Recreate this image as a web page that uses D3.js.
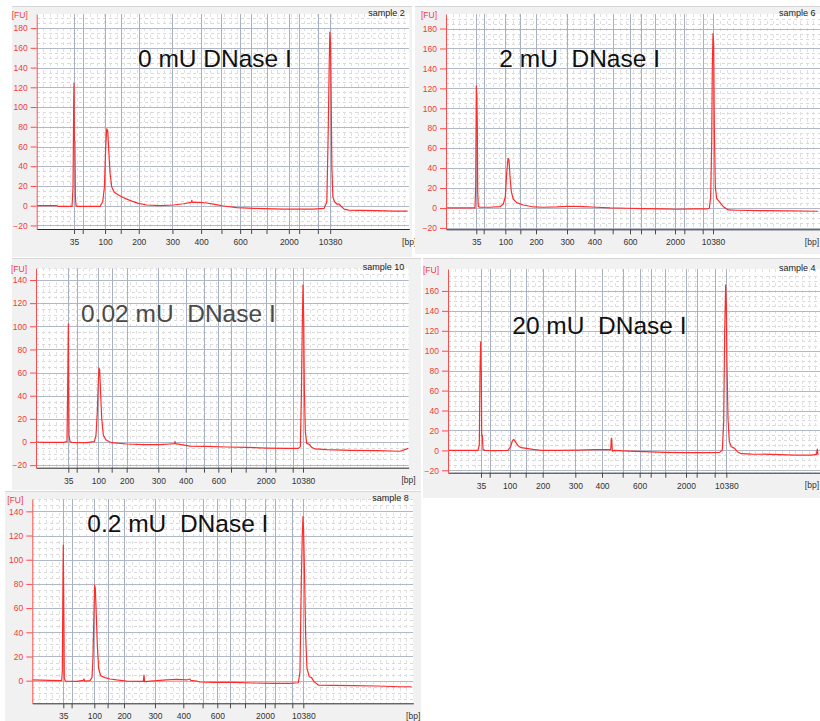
<!DOCTYPE html>
<html>
<head>
<meta charset="utf-8">
<script src="https://cdn.jsdelivr.net/npm/d3@7"></script>
<style>
  html, body { margin: 0; padding: 0; background: #ffffff; }
  svg { display: block; font-family: "Liberation Sans", Arial, Helvetica, sans-serif; }
</style>
</head>
<body>
<svg id="chart" width="820" height="721"></svg>
<script>
// ---- Ladder (High Sensitivity DNA) ----
const ladderBp = [35, 50, 100, 150, 200, 300, 400, 500, 600, 700, 1000, 2000, 3000, 7000, 10380];
const labeledBp = [35, 100, 200, 300, 400, 600, 2000, 10380];

// ---- Panel labels ----
const sampleNames = ["sample 2", "sample 6", "sample 10", "sample 4", "sample 8"];
const doseLabels = ["0 mU DNase I", "2 mU  DNase I", "0.02 mU  DNase I", "20 mU  DNase I", "0.2 mU  DNase I"];

// ---- Migration time of each ladder fragment per run [s] ----
const ladderTimeS2  = [39.33, 41.5, 47.08, 51.0, 55.5, 63.92, 71.08, 76.17, 80.83, 83.58, 87.42, 93.0, 95.58, 100.25, 103.33];
const ladderTimeS6  = [37.58, 39.42, 44.83, 48.58, 52.5, 60.25, 67.08, 71.67, 76.0, 78.75, 82.25, 87.25, 89.58, 94.17, 96.75];
const ladderTimeS10 = [38.08, 40.17, 45.58, 48.92, 52.67, 60.58, 67.42, 72.0, 75.58, 78.75, 82.42, 87.42, 89.83, 94.17, 96.75];
const ladderTimeS4  = [38.25, 40.42, 45.42, 49.42, 53.67, 61.83, 68.5, 73.67, 77.92, 80.67, 84.33, 89.5, 92.17, 96.67, 99.58];
const ladderTimeS8  = [37.75, 39.83, 45.5, 48.83, 52.92, 60.67, 67.75, 72.58, 76.25, 79.42, 83.17, 88.17, 90.58, 95.0, 97.75];

// ---- Visible time windows [s] ----
const timeRangeS2  = [30, 123.1];
const timeRangeS6  = [30, 123.5];
const timeRangeS10 = [30, 123.17];
const timeRangeS4  = [30, 123.0];
const timeRangeS8  = [30, 125.25];

// ---- Fluorescence windows [FU] and ticks ----
const fuRangeS2  = [-23.6, 194.3];
const fuRangeS6  = [-21.4, 194.6];
const fuRangeS10 = [-22.2, 150.1];
const fuRangeS4  = [-22.4, 182];
const fuRangeS8  = [-18.7, 150.2];
const fuTicksS2  = [-20, 0, 20, 40, 60, 80, 100, 120, 140, 160, 180];
const fuTicksS6  = [-20, 0, 20, 40, 60, 80, 100, 120, 140, 160, 180];
const fuTicksS10 = [-20, 0, 20, 40, 60, 80, 100, 120, 140];
const fuTicksS4  = [-20, 0, 20, 40, 60, 80, 100, 120, 140, 160];
const fuTicksS8  = [0, 20, 40, 60, 80, 100, 120, 140];

// ---- Electropherogram traces: [time s, FU] ----
const traceS2 = [[30.0,0],[35.0,0],[35.42,-0.7],[38.83,-0.7],[39.08,19.3],[39.25,107],[39.33,124],[39.42,66.6],[39.54,65],[39.67,9],[39.83,0],[40.17,-0.7],[45.83,-0.7],[46.5,4],[46.92,19],[47.25,60],[47.5,78],[47.75,76],[48.0,56],[48.33,33],[48.75,19],[49.33,14],[50.42,10.8],[52.08,7.4],[53.75,4.7],[55.42,2.4],[57.5,0.7],[60.83,0],[64.17,0.7],[66.67,2],[68.6,3.3],[68.75,5.5],[68.9,3.3],[70.0,3.4],[72.08,3],[74.17,1.7],[76.67,-0.3],[80.0,-2],[84.17,-2.7],[91.67,-3.4],[99.17,-3.4],[101.83,-2.7],[102.5,4],[102.83,73],[103.08,141],[103.25,176],[103.42,165],[103.58,107],[103.75,39.5],[104.0,9],[104.42,4],[105.0,1.7],[105.5,1.7],[106.0,-0.3],[106.83,-3.4],[107.92,-4.4],[110.83,-4.7],[115.0,-5],[119.17,-5.4],[122.67,-5.4]];
const traceS6 = [[30.0,0],[37.25,0],[37.42,21],[37.58,122.4],[37.71,111.7],[37.83,81.6],[37.92,16.4],[38.08,1.3],[38.5,0.7],[41.0,0.7],[43.5,1.3],[44.33,4],[44.83,11.4],[45.17,34.8],[45.5,49.8],[45.75,48],[46.0,31.4],[46.33,16.4],[46.83,8.7],[47.67,5.4],[49.33,3],[51.83,1],[54.33,0.7],[57.67,1],[61.0,1.7],[64.33,1.3],[67.67,0.7],[71.0,0],[75.17,-0.3],[79.33,-0.7],[84.33,-1],[87.67,-1.3],[91.83,-1],[95.17,-1],[95.83,-0.3],[96.17,11.4],[96.42,65],[96.58,142],[96.75,175],[96.92,165],[97.08,81.6],[97.33,21.4],[97.67,9.4],[98.33,6.4],[99.33,1.3],[100.58,-2],[102.67,-2.3],[108.5,-2.7],[115.17,-3],[123.08,-3.3]];
const traceS10 = [[30.0,0],[31.83,-0.3],[36.83,-0.3],[37.75,0.3],[37.96,60],[38.08,102],[38.17,42],[38.25,6],[38.5,0.3],[38.92,-0.3],[42.67,-0.6],[44.58,0.3],[45.0,6],[45.33,26],[45.58,52],[45.75,64],[45.92,62],[46.17,40.6],[46.42,20.5],[46.83,6],[47.5,1.7],[48.92,-0.6],[52.67,-1.7],[56.83,-2.3],[61.0,-2.3],[63.5,-1.7],[64.67,-1.4],[64.75,0.5],[64.83,-1.4],[66.0,-2],[68.5,-3.5],[72.67,-3.7],[77.67,-4.3],[82.67,-4.6],[87.67,-5.2],[92.67,-5.5],[95.58,-5.5],[96.08,-4],[96.33,37.7],[96.58,104],[96.75,135.7],[96.92,106.9],[97.08,46.4],[97.33,9],[97.67,-1.2],[98.33,-2],[98.92,-4.6],[99.75,-6],[102.67,-6.6],[108.5,-7.2],[115.17,-7.5],[121.0,-8],[123.08,-5.5]];
const traceS4 = [[30.0,0],[37.5,0],[37.83,5.4],[38.0,79],[38.17,109],[38.25,82.3],[38.33,80.6],[38.42,15.4],[38.58,15.4],[38.75,1],[39.17,0],[41.67,-0.3],[45.0,0],[45.67,3.7],[46.08,9.4],[46.42,11],[46.83,8.7],[47.5,4.7],[48.33,2.7],[49.58,2],[51.25,1],[53.33,0],[57.5,0],[62.5,0.3],[66.67,0.7],[70.67,0.7],[70.83,12],[70.92,12],[71.08,-0.7],[71.67,0],[75.0,-0.7],[79.17,-1.3],[84.17,-2],[89.17,-2.3],[94.17,-2.3],[97.92,-2],[98.58,0.3],[98.92,28.8],[99.17,119],[99.42,166],[99.58,146],[99.75,85.6],[100.0,32],[100.33,8.7],[100.83,3.7],[101.67,2],[102.33,-1.3],[103.33,-3.3],[105.83,-3.7],[110.83,-4],[116.67,-4.7],[120.83,-4.7],[122.08,-4],[122.33,1.3],[122.5,-4.7]];
const traceS8 = [[30.0,0.6],[34.42,0.3],[37.33,0],[37.5,7.4],[37.67,87],[37.75,112],[37.83,79],[37.92,40.5],[38.0,2],[38.25,-0.3],[41.08,-0.6],[42.75,0.3],[42.92,1.4],[43.08,-0.3],[44.42,0],[44.92,2.5],[45.17,18.5],[45.42,57],[45.58,79],[45.75,76.3],[46.0,54.3],[46.25,29.5],[46.58,10.2],[47.08,4.1],[48.17,2.5],[49.42,1.4],[51.08,0.6],[53.58,-0.3],[56.92,-0.6],[57.75,-0.6],[57.92,4.7],[58.08,-0.8],[61.08,0],[63.58,0.6],[66.08,1.1],[68.58,0.6],[69.42,1.4],[69.58,0.3],[71.08,-0.3],[71.92,-1.1],[75.25,-1.4],[80.25,-1.4],[85.25,-1.9],[90.25,-2.2],[94.42,-2.2],[96.5,-1.7],[96.92,7.4],[97.25,81.8],[97.5,120.4],[97.67,135.6],[97.83,123.2],[98.08,84.6],[98.33,37.8],[98.67,10.2],[99.25,3.3],[99.83,2.5],[100.42,-0.8],[101.5,-3.6],[105.25,-3.9],[110.25,-4.1],[116.08,-4.4],[121.92,-5],[124.83,-5]];

// ---- Panel table ----
const panels = [
  { name: sampleNames[0], dose: doseLabels[0], ladderTime: ladderTimeS2,  time: timeRangeS2,  fu: fuRangeS2,  fuTicks: fuTicksS2,  trace: traceS2 },
  { name: sampleNames[1], dose: doseLabels[1], ladderTime: ladderTimeS6,  time: timeRangeS6,  fu: fuRangeS6,  fuTicks: fuTicksS6,  trace: traceS6 },
  { name: sampleNames[2], dose: doseLabels[2], ladderTime: ladderTimeS10, time: timeRangeS10, fu: fuRangeS10, fuTicks: fuTicksS10, trace: traceS10 },
  { name: sampleNames[3], dose: doseLabels[3], ladderTime: ladderTimeS4,  time: timeRangeS4,  fu: fuRangeS4,  fuTicks: fuTicksS4,  trace: traceS4 },
  { name: sampleNames[4], dose: doseLabels[4], ladderTime: ladderTimeS8,  time: timeRangeS8,  fu: fuRangeS8,  fuTicks: fuTicksS8,  trace: traceS8 }
];

// ---- Page layout of the five frames ----
const frames = [
  { bg: [12, 6, 400, 251],   plot: { left: 36.7, right: 409.3, top: 14,    bottom: 229 },   title: [138, 66.7],   titleColor: "#111111" },
  { bg: [415, 6, 405, 248],  plot: { left: 446,  right: 820,   top: 14,    bottom: 229.3 }, title: [499.3, 66.7], titleColor: "#111111" },
  { bg: [12, 258, 409, 232], plot: { left: 36,   right: 408.7, top: 268.3, bottom: 467.7 }, title: [81, 321.7],   titleColor: "#4a4a4a" },
  { bg: [423, 258, 397, 240],plot: { left: 448,  right: 820,   top: 269,   bottom: 472.7 }, title: [512.3, 334],  titleColor: "#111111" },
  { bg: [5, 491, 416, 230],  plot: { left: 32.3, right: 413.3, top: 499,   bottom: 703.3 }, title: [87.3, 531.7], titleColor: "#111111" }
];

const svg = d3.select("#chart");
const defs = svg.append("defs");
const RED = "#ff2b2b";
const PAGE_W = 820;

panels.forEach((p, i) => {
  const f = frames[i];
  const b = f.plot;
  const g = svg.append("g");

  // frame background
  g.append("rect")
    .attr("x", f.bg[0]).attr("y", f.bg[1]).attr("width", f.bg[2]).attr("height", f.bg[3])
    .attr("fill", "#f1f1f1");
  g.append("line")
    .attr("x1", f.bg[0]).attr("x2", f.bg[0] + f.bg[2]).attr("y1", f.bg[1] + 0.5).attr("y2", f.bg[1] + 0.5)
    .attr("stroke", "#d6d6d6");

  const x = d3.scaleLinear().domain(p.time).range([b.left, b.right]);
  const y = d3.scaleLinear().domain(p.fu).range([b.bottom, b.top]);

  const clipId = "clip" + i;
  defs.append("clipPath").attr("id", clipId)
    .append("rect").attr("x", b.left).attr("y", b.top).attr("width", b.right - b.left).attr("height", b.bottom - b.top);

  // plot area
  g.append("rect")
    .attr("x", b.left).attr("y", b.top).attr("width", b.right - b.left).attr("height", b.bottom - b.top)
    .attr("fill", "#ffffff");

  const grid = g.append("g").attr("clip-path", `url(#${clipId})`).attr("shape-rendering", "crispEdges");

  // minor dashed grid
  const minorFu = d3.range(Math.ceil(p.fu[0] / 5) * 5, p.fu[1], 5).filter(v => v % 20 !== 0);
  grid.selectAll(".minor-h").data(minorFu).join("line")
    .attr("x1", b.left).attr("x2", b.right)
    .attr("y1", d => Math.round(y(d)) + 0.5).attr("y2", d => Math.round(y(d)) + 0.5)
    .attr("stroke", "#dadada").attr("stroke-dasharray", "3,3");
  const minorT = d3.range(p.time[0] + 1.67, p.time[1], 1.67);
  grid.selectAll(".minor-v").data(minorT).join("line")
    .attr("x1", d => Math.round(x(d)) + 0.5).attr("x2", d => Math.round(x(d)) + 0.5)
    .attr("y1", b.top).attr("y2", b.bottom)
    .attr("stroke", "#e0e0e0").attr("stroke-dasharray", "3,4");

  // major grid
  grid.selectAll(".major-h").data(p.fuTicks).join("line")
    .attr("x1", b.left).attr("x2", b.right)
    .attr("y1", d => Math.round(y(d)) + 0.5).attr("y2", d => Math.round(y(d)) + 0.5)
    .attr("stroke", "#b1b9c9");
  grid.selectAll(".major-v").data(p.ladderTime).join("line")
    .attr("x1", d => Math.round(x(d)) + 0.5).attr("x2", d => Math.round(x(d)) + 0.5)
    .attr("y1", b.top).attr("y2", b.bottom)
    .attr("stroke", "#a8b1c4");

  // trace
  const line = d3.line().x(d => x(d[0])).y(d => y(d[1]));
  g.append("path")
    .attr("clip-path", `url(#${clipId})`)
    .datum(p.trace)
    .attr("d", line)
    .attr("fill", "none")
    .attr("stroke", RED)
    .attr("stroke-width", 1.2)
    .attr("stroke-linejoin", "round");

  // x axis (ladder sizes)
  const xAxis = d3.axisBottom(x)
    .tickValues(p.ladderTime)
    .tickSize(5).tickSizeOuter(0).tickPadding(5)
    .tickFormat((d, k) => labeledBp.includes(ladderBp[k]) ? String(ladderBp[k]) : "");
  const gx = g.append("g").attr("transform", `translate(0,${b.bottom})`).call(xAxis);
  gx.select(".domain").attr("stroke", "#2b2b2b");
  gx.selectAll(".tick line").attr("stroke", "#4a4a4a");
  gx.selectAll(".tick text").attr("fill", "#333333").style("font-size", "8.5px")
    .style("font-family", "'Liberation Sans', Arial, sans-serif");

  // y axis (fluorescence)
  const yAxis = d3.axisLeft(y).tickValues(p.fuTicks).tickSize(6).tickSizeOuter(0).tickPadding(3);
  const gy = g.append("g").attr("transform", `translate(${b.left},0)`).call(yAxis);
  gy.select(".domain").attr("stroke", "#ff4b4b");
  gy.selectAll(".tick line").attr("stroke", "#ff4b4b");
  gy.selectAll(".tick text").attr("fill", "#f23a3a").style("font-size", "8.5px")
    .style("font-family", "'Liberation Sans', Arial, sans-serif");

  // unit labels
  g.append("text").attr("x", b.left - 25).attr("y", b.top + 3.5)
    .attr("fill", "#f23a3a").style("font-size", "8.5px").text("[FU]");
  g.append("text").attr("x", Math.min(b.right + 7, PAGE_W - 1)).attr("y", b.bottom + 15.5)
    .attr("text-anchor", "end").attr("fill", "#333333").style("font-size", "8.5px").text("[bp]");

  // sample name
  g.append("text").attr("x", b.right - 4.5).attr("y", b.top + 1.7)
    .attr("text-anchor", "end").attr("fill", "#222222").style("font-size", "9px").text(p.name);

  // dose label
  g.append("text").attr("x", f.title[0]).attr("y", f.title[1])
    .attr("fill", f.titleColor)
    .style("font-size", "24.5px")
    .style("white-space", "pre")
    .attr("xml:space", "preserve")
    .text(p.dose);
});
</script>
</body>
</html>
